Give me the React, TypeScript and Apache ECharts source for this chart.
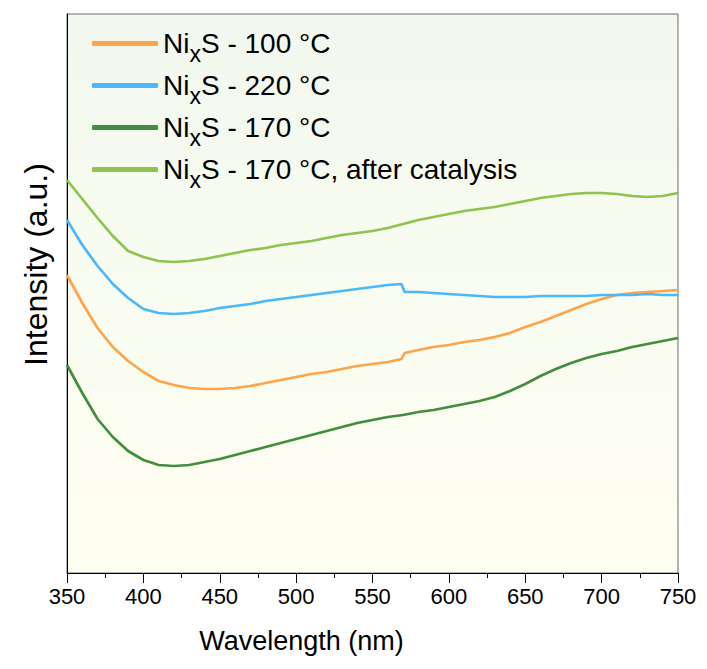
import React, { useEffect, useRef } from "react";
import * as echarts from "echarts";

// Wavelength grids (nm)
const wlUniform = [350,360,370,380,390,400,410,420,430,440,450,460,470,480,490,500,510,520,530,540,550,560,570,580,590,600,610,620,630,640,650,660,670,680,690,700,710,720,730,740,750];
const wlStep = [350,360,370,380,390,400,410,420,430,440,450,460,470,480,490,500,510,520,530,540,550,560,569,571,580,590,600,610,620,630,640,650,660,670,680,690,700,710,720,730,740,750];

// Intensity (a.u.)
const ni100 = [298,270,245,226,212,201,192,188,185,184,184,185,187,190,193,196,199,201,204,207,209,211,214,220,223,226,228,231,233,236,240,246,251,257,263,269,274,278,280,281,282,283];
const ni220 = [353,328,307,289,275,264,260,259,260,262,265,267,269,272,274,276,278,280,282,284,286,288,289,281,281,280,279,278,277,276,276,276,277,277,277,277,278,278,278,279,278,278];
const ni170 = [208,180,154,136,122,113,108,107,108,111,114,118,122,126,130,134,138,142,146,150,153,156,158,161,163,166,169,172,176,182,189,197,204,210,215,219,222,226,229,232,235];
const ni170After = [393,374,355,337,322,316,312,311,312,314,317,320,323,325,328,330,332,335,338,340,342,345,349,353,356,359,362,364,366,369,372,375,377,379,380,380,379,377,376,377,380];

const seriesNames = ["NixS - 100 °C", "NixS - 220 °C", "NixS - 170 °C", "NixS - 170 °C, after catalysis"];
const seriesColors = ["#FFA44A", "#4BB8FC", "#438D41", "#8FC24E"];

const xTickMin = 350;
const xTickMax = 750;
const xTickStep = 50;

const zip = (xs: number[], ys: number[]) => ys.map((y, i) => [xs[i], y]);

export default function App() {
  const ref = useRef<HTMLDivElement>(null);
  useEffect(() => {
    document.body.style.margin = "0";
    if (!ref.current) return;
    const chart = echarts.init(ref.current, undefined, { renderer: "svg" });
    const seriesData = [
      zip(wlStep, ni100),
      zip(wlStep, ni220),
      zip(wlUniform, ni170),
      zip(wlUniform, ni170After),
    ];
    const font = "'Liberation Sans', Arial, sans-serif";
    chart.setOption({
      animation: false,
      backgroundColor: "#ffffff",
      grid: {
        left: 67,
        right: 29,
        top: 14,
        bottom: 96,
        show: true,
        borderColor: "#6a6a6a",
        borderWidth: 1,
        backgroundColor: new echarts.graphic.LinearGradient(0, 0, 0, 1, [
          { offset: 0, color: "#F2F8EF" },
          { offset: 1, color: "#FFFFF1" },
        ]),
      },
      legend: {
        orient: "vertical",
        left: 87,
        top: 17,
        itemWidth: 66,
        itemHeight: 5,
        itemGap: -1,
        icon: "roundRect",
        data: seriesNames,
        formatter: (name: string) => "Ni{sub|x}" + name.slice(3),
        textStyle: {
          fontFamily: font,
          fontSize: 28,
          lineHeight: 32,
          color: "#000",
          rich: {
            sub: { fontFamily: font, fontSize: 23, lineHeight: 30, padding: [20, 0, 0, 0], color: "#000" },
          },
        },
      },
      xAxis: {
        type: "value",
        min: xTickMin,
        max: xTickMax,
        interval: xTickStep,
        name: "Wavelength (nm)",
        nameLocation: "middle",
        nameGap: 54,
        nameTextStyle: { fontFamily: font, fontSize: 27, color: "#000", padding: [0, 142, 0, 0] },
        axisLine: { show: true, lineStyle: { color: "#000", width: 1 } },
        axisTick: { show: true, inside: false, length: 10, lineStyle: { color: "#000" } },
        minorTick: { show: true, splitNumber: 2, length: 5, lineStyle: { color: "#000" } },
        axisLabel: { fontFamily: font, fontSize: 22, color: "#000", margin: 12 },
        splitLine: { show: false },
      },
      yAxis: {
        type: "value",
        min: 0,
        max: 559,
        name: "Intensity (a.u.)",
        nameLocation: "middle",
        nameGap: 15,
        nameTextStyle: { fontFamily: font, fontSize: 32, color: "#000", padding: [0, 0, 0, 58] },
        axisLine: { show: true, lineStyle: { color: "#000", width: 1 } },
        axisTick: { show: false },
        axisLabel: { show: false },
        splitLine: { show: false },
      },
      series: seriesNames.map((n, i) => ({
        name: n,
        type: "line",
        data: seriesData[i],
        showSymbol: false,
        symbol: "none",
        color: seriesColors[i],
        lineStyle: { width: 2.7, color: seriesColors[i] },
        z: 3,
      })),
    });
    return () => chart.dispose();
  }, []);
  return <div ref={ref} style={{ width: 707, height: 669 }} />;
}
